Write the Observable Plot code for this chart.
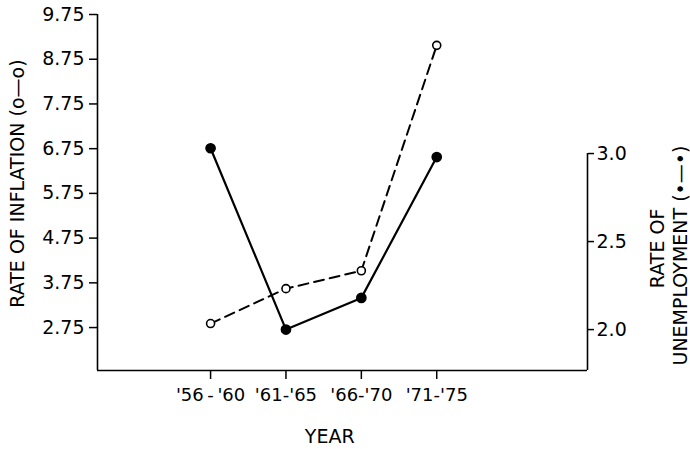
<!DOCTYPE html>
<html>
<head>
<meta charset="utf-8">
<script src="https://cdn.jsdelivr.net/npm/d3@7"></script>
<script src="https://cdn.jsdelivr.net/npm/@observablehq/plot@0.6"></script>
<style>
  html, body { margin: 0; padding: 0; background: white; }
</style>
</head>
<body>
<div id="chart"></div>
<script>
const periods = ["'56\u2009-\u2009'60", "'61-'65", "'66-'70", "'71-'75"];
const inflation = [2.84, 3.62, 4.02, 9.06];
const unemployment = [3.03, 2.0, 2.18, 2.98];
const inflationTicks = [2.75, 3.75, 4.75, 5.75, 6.75, 7.75, 8.75, 9.75];
const unemploymentTicks = [2.0, 2.5, 3.0];
const axisTitles = [
  { text: "RATE OF INFLATION (o\u2014o)", x: -2.55, y: 5.97, rotate: -90 },
  { text: "RATE OF", x: 5.94, y: 4.52, rotate: -90 },
  { text: "UNEMPLOYMENT (\u2022\u2014\u2022)", x: 6.24, y: 4.36, rotate: -90 },
  { text: "YEAR", x: 1.58, y: 0.31, rotate: 0 }
];

// map unemployment onto the inflation (left) scale
const U0 = 2.705, K = 3.936;
const toY = u => U0 + (u - 2) * K;
const fromY = v => (v - U0) / K + 2;

const idx = periods.map((_, i) => i);
const yMin = 1.79, yMax = 9.75;
const FONT = "DejaVu Sans, Liberation Sans, sans-serif";

const chart = Plot.plot({
  width: 690,
  height: 449,
  marginLeft: 97,
  marginRight: 103,
  marginTop: 14,
  marginBottom: 79,
  x: { type: "linear", domain: [-1.5, 5] },
  y: { domain: [yMin, yMax] },
  style: { fontFamily: FONT, fontSize: "19px", color: "black", background: "white" },
  marks: [
    Plot.axisX({ ticks: [0, 1, 2, 3], tickFormat: i => periods[i], tickSize: 9, tickPadding: 9, label: null, strokeWidth: 1.5, fontSize: 18 }),
    Plot.axisY({ ticks: inflationTicks, tickFormat: d => d.toFixed(2), tickSize: 8, tickPadding: 5, label: null, strokeWidth: 1.5, fontSize: 19 }),
    Plot.axisY({ anchor: "right", ticks: unemploymentTicks.map(toY), tickFormat: v => fromY(v).toFixed(1), tickSize: 6, tickPadding: 3, label: null, strokeWidth: 1.5, fontSize: 19 }),
    Plot.ruleX([-1.5], { y1: yMin, y2: yMax, strokeWidth: 1.6 }),
    Plot.ruleY([yMin], { x1: -1.5, x2: 5, strokeWidth: 1.6 }),
    Plot.ruleX([5], { y1: yMin, y2: toY(3.0), strokeWidth: 1.6 }),
    Plot.line(idx, { x: i => i, y: i => inflation[i], strokeWidth: 2, strokeDasharray: "10,6" }),
    Plot.line(idx, { x: i => i, y: i => toY(unemployment[i]), strokeWidth: 2.2 }),
    Plot.dot(idx, { x: i => i, y: i => inflation[i], r: 4, fill: "white", stroke: "black", strokeWidth: 1.6 }),
    Plot.dot(idx, { x: i => i, y: i => toY(unemployment[i]), r: 4.6, fill: "black", stroke: "black" }),
    Plot.text(axisTitles, { x: "x", y: "y", text: "text", rotate: "rotate", fontSize: 19, fontFamily: FONT })
  ]
});
document.getElementById("chart").appendChild(chart);
</script>
</body>
</html>
